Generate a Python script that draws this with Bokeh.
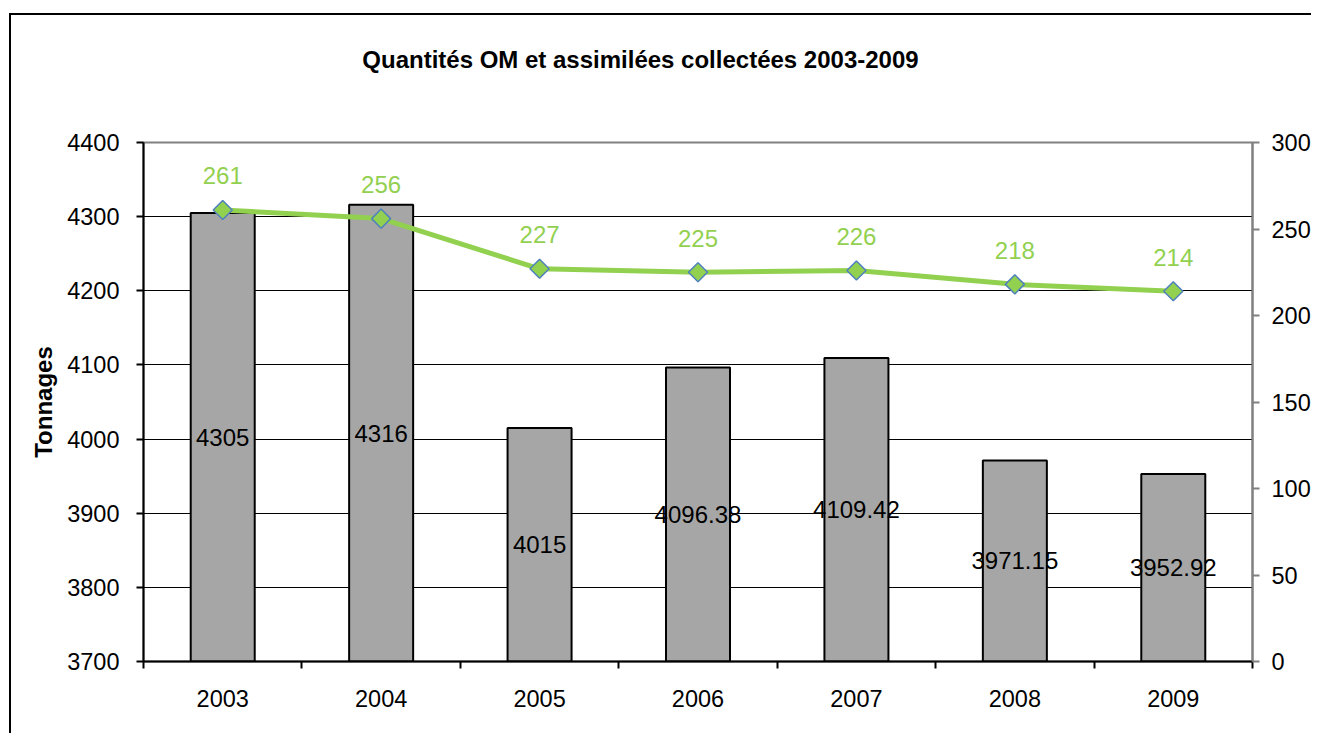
from bokeh.plotting import figure
from bokeh.models import (Range1d, LinearAxis, FixedTicker, ColumnDataSource, LinearScale)
from bokeh.core.properties import value
from bokeh.embed import file_html
from bokeh.resources import INLINE
import math

years = ["2003", "2004", "2005", "2006", "2007", "2008", "2009"]
tonnages = [4305, 4316, 4015, 4096.38, 4109.42, 3971.15, 3952.92]
tonnage_labels = ["4305", "4316", "4015", "4096.38", "4109.42", "3971.15", "3952.92"]
per_hab = [261, 256, 227, 225, 226, 218, 214]
title_text = "Quantités OM et assimilées collectées 2003-2009"
y_left_ticks = [3700, 3800, 3900, 4000, 4100, 4200, 4300, 4400]
y_right_ticks = [0, 50, 100, 150, 200, 250, 300]

FONT = "Liberation Sans"
GREEN = "#92D050"
BLUE = "#4F81BD"

base = 3700
xpos = [i + 0.5 for i in range(len(years))]
src = ColumnDataSource(dict(
    x=xpos, top=tonnages, mid=[(base + t) / 2 for t in tonnages],
    lab=tonnage_labels, v=per_hab, vlab=[str(v) for v in per_hab],
))

# canvas offset by CSS margin: 11px right, 15px down; frame line via box-shadow
p = figure(width=1302, height=720, x_range=Range1d(0, len(years)),
           y_range=Range1d(3700, 4400),
           output_backend="svg", toolbar_location=None, x_axis_location=None,
           min_border_left=132, min_border_right=61, min_border_top=127,
           min_border_bottom=74,
           styles={"box-shadow": "-2px -2px 0px 0px #000000",
                   "margin-left": "11px", "margin-top": "15px"})
p.extra_y_ranges = {"right": Range1d(0, 300)}
p.extra_y_scales = {"right": LinearScale()}
p.background_fill_color = "white"
p.border_fill_color = "white"
p.outline_line_color = "#808080"
p.outline_line_width = 2

# chart title, drawn as the single label of an invisible top axis
title_x = 3.137
ta = LinearAxis(ticker=FixedTicker(ticks=[title_x]),
                major_label_overrides={title_x: title_text})
ta.axis_line_color = None
ta.major_tick_line_color = None
ta.minor_tick_line_color = None
ta.major_tick_in = 0
ta.major_tick_out = 0
ta.minor_tick_out = 0
ta.major_label_standoff = 70
ta.major_label_text_font = FONT
ta.major_label_text_font_style = "bold"
ta.major_label_text_font_size = "24px"
ta.major_label_text_color = "black"
p.add_layout(ta, "above")

p.xgrid.visible = False
p.ygrid.ticker = FixedTicker(ticks=y_left_ticks[1:-1])
p.ygrid.grid_line_color = "black"
p.ygrid.grid_line_width = 1

# left axis
ya = p.yaxis[0]
ya.ticker = FixedTicker(ticks=y_left_ticks)
ya.axis_line_color = "black"
ya.axis_line_width = 2
ya.major_tick_in = 0
ya.major_tick_out = 7
ya.major_tick_line_color = "black"
ya.major_tick_line_width = 2
ya.minor_tick_line_color = None
ya.major_label_standoff = 17
ya.major_label_text_font = FONT
ya.major_label_text_font_size = "23.5px"
ya.major_label_text_color = "black"
ya.axis_label = "Tonnages"
ya.axis_label_text_font = FONT
ya.axis_label_text_font_style = "bold"
ya.axis_label_text_font_size = "24px"
ya.axis_label_text_color = "black"
ya.axis_label_standoff = 7

# right axis
ra = LinearAxis(y_range_name="right", ticker=FixedTicker(ticks=y_right_ticks))
ra.axis_line_color = "#808080"
ra.axis_line_width = 2
ra.major_tick_in = 0
ra.major_tick_out = 7
ra.major_tick_line_color = "#808080"
ra.major_tick_line_width = 2
ra.minor_tick_line_color = None
ra.major_label_standoff = 12
ra.major_label_text_font = FONT
ra.major_label_text_font_size = "23.5px"
ra.major_label_text_color = "black"
p.add_layout(ra, "right")

# bottom edge ticks axis (category boundaries)
ea = LinearAxis(ticker=FixedTicker(ticks=list(range(len(years) + 1))))
ea.axis_line_color = "black"
ea.axis_line_width = 2
ea.major_tick_in = 0
ea.major_tick_out = 7
ea.major_tick_line_color = "black"
ea.major_tick_line_width = 2
ea.minor_tick_line_color = None
ea.major_label_text_font_size = "1px"
ea.major_label_text_alpha = 0
ea.major_label_standoff = 0
p.add_layout(ea, "below")

# category labels axis
ca = LinearAxis(ticker=FixedTicker(ticks=xpos),
                major_label_overrides={x: y for x, y in zip(xpos, years)})
ca.axis_line_color = None
ca.major_tick_line_color = None
ca.minor_tick_line_color = None
ca.major_label_standoff = 15
ca.major_label_text_font = FONT
ca.major_label_text_font_size = "23.5px"
ca.major_label_text_color = "black"
p.add_layout(ca, "below")

p.vbar(x="x", top="top", bottom=base, width=0.404, source=src,
       fill_color="#A6A6A6", line_color="black", line_width=2)
p.text(x="x", y="mid", text="lab", source=src, text_align="center",
       text_baseline="middle", text_font=value(FONT), text_font_size="24px",
       text_color="black")

p.line(x="x", y="v", source=src, y_range_name="right", line_color=GREEN, line_width=5)
p.scatter(x="x", y="v", source=src, y_range_name="right", marker="square",
          size=13.5, angle=math.pi / 4, fill_color=GREEN, line_color=BLUE, line_width=1.5)
p.text(x="x", y="v", text="vlab", source=src, y_range_name="right",
       text_align="center", text_baseline="middle", y_offset=-34,
       text_font=value(FONT), text_font_size="24px", text_color=GREEN)

open("out.html", "w").write(file_html(p, INLINE))
